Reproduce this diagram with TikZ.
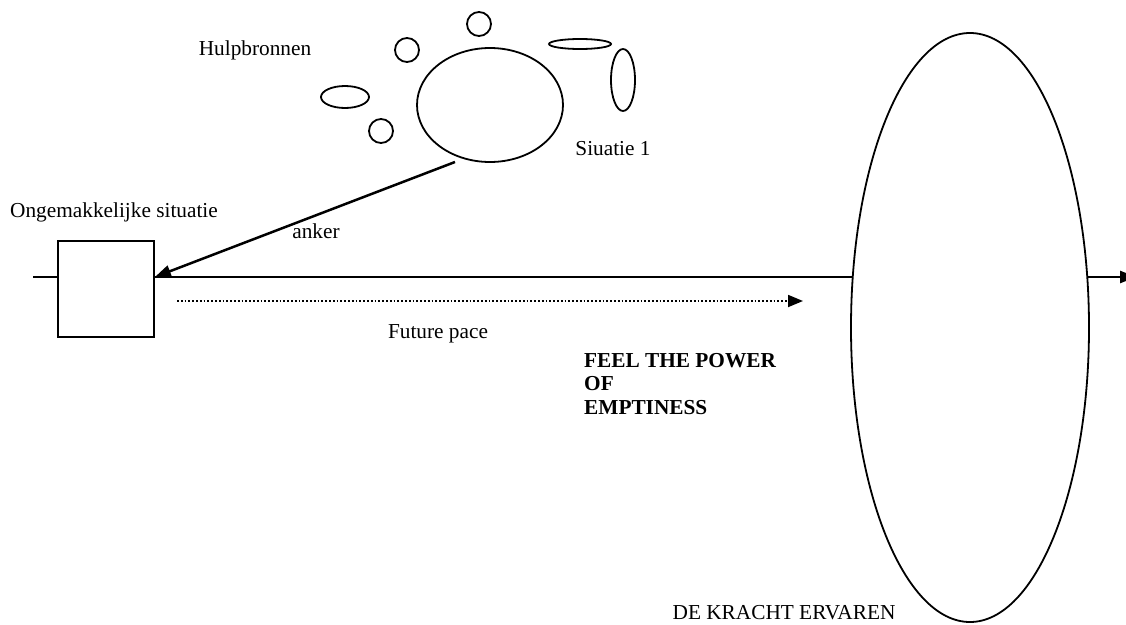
\documentclass[tikz,border=0pt]{standalone}
\usepackage{fontspec}
\setmainfont{Liberation Serif}
\usetikzlibrary{arrows.meta}
\begin{document}
\begin{tikzpicture}[x=1pt,y=-1pt,
  shp/.style={draw,line width=1.8pt},
  lbl/.style={font=\fontsize{21.3}{24}\selectfont,inner sep=0pt,anchor=base},
  conn/.style={line width=2.5pt},
  tip/.style={-{Triangle[length=16pt,width=12pt]}}]
\useasboundingbox (0,0) rectangle (1126,624);
% situation 1 and resources
\draw[shp] (490,105) ellipse [x radius=73, y radius=57];
\coordinate (anchorstart) at (455,162);
\draw[shp] (407,50) circle [radius=12];
\draw[shp] (479,24) circle [radius=12];
\draw[shp] (381,131) circle [radius=12];
\draw[shp] (345,97) ellipse [x radius=24, y radius=11];
\draw[shp] (580,44) ellipse [x radius=31, y radius=5];
\draw[shp] (623,80) ellipse [x radius=12, y radius=31];
% box
\node[shp,minimum width=96pt,minimum height=96pt,inner sep=0pt] (box) at (106,289) {};
\coordinate (leftend) at (33,277);
\coordinate (rightend) at (1136,277);
\draw[conn] (leftend) -- (box.west |- leftend);
\draw[conn,tip] (box.east |- rightend) -- (rightend);
\draw[conn,tip] (anchorstart) -- (box.east |- rightend);
% big ellipse over the line
\draw[shp,fill=white] (970,327.5) ellipse [x radius=119, y radius=294.5];
% dotted future pace
\coordinate (fpstart) at (177,301);
\coordinate (fpend) at (803,301);
\draw[line width=1.8pt,dotted,-{Triangle[length=15pt,width=12pt]}] (fpstart) -- (fpend);
% labels
\node[lbl] (hulp) at (255,55) {Hulpbronnen};
\node[lbl] (sit1) at (613,155) {Siuatie 1};
\node[lbl] (ong) at (114,217) {Ongemakkelijke situatie};
\node[lbl] (anker) at (316,238) {anker};
\node[lbl] (fp) at (438,338) {Future pace};
\node[lbl,anchor=base west,font=\fontsize{21.3}{24}\selectfont\bfseries] (feel1) at (584,367) {FEEL THE POWER};
\node[lbl,anchor=base west,font=\fontsize{21.3}{24}\selectfont\bfseries] (feel2) at (584,390) {OF};
\node[lbl,anchor=base west,font=\fontsize{21.3}{24}\selectfont\bfseries] (feel3) at (584,414) {EMPTINESS};
\node[lbl] (kracht) at (784,619) {DE KRACHT ERVAREN};
\end{tikzpicture}
\end{document}
